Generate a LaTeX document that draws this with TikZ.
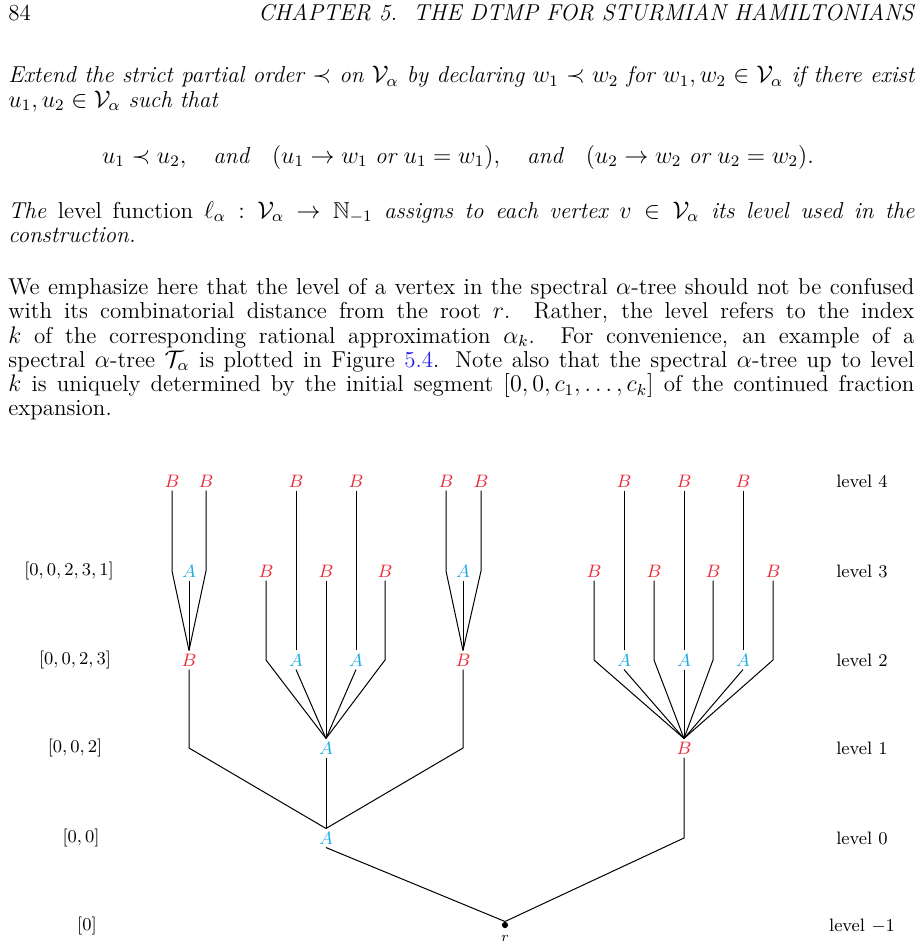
\documentclass[tikz,border=0pt]{standalone}
\usepackage{amsmath,amssymb}
\definecolor{tred}{RGB}{235,40,55}
\definecolor{tcyan}{RGB}{30,170,230}
\definecolor{lnk}{RGB}{30,30,240}
\begin{document}
\begin{tikzpicture}[x=0.5pt,y=-0.5pt,
  vb/.style={text=tred,inner sep=1.5pt,font=\small},
  va/.style={text=tcyan,inner sep=1.5pt,font=\small},
  lab/.style={font=\small,inner sep=0pt},
  para/.style={anchor=north west,text width=453pt,align=justify,inner sep=0pt,font=\fontsize{11.5pt}{12.1pt}\selectfont}]
\useasboundingbox (0,0) rectangle (921,950);
% header
\node[anchor=base west,inner sep=0pt,font=\fontsize{11.5pt}{12pt}\selectfont] (pg) at (8,20) {84};
\node[anchor=base east,inner sep=0pt,font=\fontsize{11.5pt}{12pt}\selectfont] (hd) at (914,20) {\itshape CHAPTER 5.\ \ THE DTMP FOR STURMIAN HAMILTONIANS};
\node[para] (p1) at (8,66) {\itshape Extend the strict partial order $\prec$ on $\mathcal{V}_\alpha$ by declaring $w_1\prec w_2$ for $w_1,w_2\in\mathcal{V}_\alpha$ if there exist\linebreak $u_1,u_2\in\mathcal{V}_\alpha$ such that};
\node[anchor=base,inner sep=0pt,font=\fontsize{11.5pt}{12pt}\selectfont] (disp) at (458,163) {$u_1\prec u_2,\quad \textit{and}\quad (u_1\to w_1\ \textit{or}\ u_1=w_1),\quad \textit{and}\quad (u_2\to w_2\ \textit{or}\ u_2=w_2).$};
\node[para] (p2) at (8,201) {\itshape The \upshape level function \itshape $\ell_\alpha:\mathcal{V}_\alpha\to\mathbb{N}_{-1}$ assigns to each vertex $v\in\mathcal{V}_\alpha$ its level used in the\linebreak construction.};
\node[para] (p3) at (8,278) {We emphasize here that the level of a vertex in the spectral $\alpha$-tree should not be confused\linebreak with its combinatorial distance from the root $r$. Rather, the level refers to the index\linebreak $k$ of the corresponding rational approximation $\alpha_k$. For convenience, an example of a\linebreak spectral $\alpha$-tree $\mathcal{T}_\alpha$ is plotted in Figure \textcolor{lnk}{5.4}. Note also that the spectral $\alpha$-tree up to level\linebreak $k$ is uniquely determined by the initial segment $[0,0,c_1,\dots,c_k]$ of the continued fraction\linebreak expansion.};
% side labels
\node[lab] (s3) at (69,571) {$[0,0,2,3,1]$};
\node[lab] (s2) at (75,660) {$[0,0,2,3]$};
\node[lab] (s1) at (75,748) {$[0,0,2]$};
\node[lab] (s0) at (81,838) {$[0,0]$};
\node[lab] (sm) at (87,926) {$[0]$};
\node[lab] (t4) at (862,481) {level 4};
\node[lab] (t3) at (862,571) {level 3};
\node[lab] (t2) at (862,660) {level 2};
\node[lab] (t1) at (862,748) {level 1};
\node[lab] (t0) at (862,838) {level 0};
\node[lab] (tm) at (862,926) {level $-1$};
% root
\node[circle,fill=black,inner sep=1.1pt] (r) at (505,925) {};
\node[lab,font=\scriptsize] (rl) at (505,938) {$r$};
% tree nodes
\foreach \n/\x/\y/\s in {a0/326/838/A, b1/684/748/B, a1/326/748/A,
  bl/189/660/B, br/463/660/B,
  lA/189/571/A, lB1/172/481/B, lB2/206/481/B,
  rA/463/571/A, rB1/446/481/B, rB2/481/481/B,
  m1/266/571/B, m2/296/660/A, m3/326/571/B, m4/356/660/A, m5/385/571/B,
  m2t/296/481/B, m4t/356/481/B,
  n1/594/571/B, n2/624/660/A, n3/654/571/B, n4/684/660/A, n5/713/571/B, n6/743/660/A, n7/773/571/B,
  n2t/624/481/B, n4t/684/481/B, n6t/743/481/B}
  {\if\s A \node[va] (\n) at (\x,\y) {$A$};\else \node[vb] (\n) at (\x,\y) {$B$};\fi}
% edges
\foreach \c/\p/\b in {a0/r/0, b1/r/838, a1/a0/0, bl/a0/748, br/a0/748,
  lA/bl/0, lB1/bl/571, lB2/bl/571, rA/br/0, rB1/br/571, rB2/br/571,
  m1/a1/660, m2/a1/0, m3/a1/0, m4/a1/0, m5/a1/660, m2t/m2/0, m4t/m4/0,
  n1/b1/660, n2/b1/0, n3/b1/660, n4/b1/0, n5/b1/660, n6/b1/0, n7/b1/660,
  n2t/n2/0, n4t/n4/0, n6t/n6/0}
  {\ifnum\b=0 \draw[line width=0.5pt] (\c.south) -- (\p.north);
   \else \draw[line width=0.5pt] (\c.south) -- (\c.south |- 0,\b) -- (\p.north);\fi}
\end{tikzpicture}
\end{document}
